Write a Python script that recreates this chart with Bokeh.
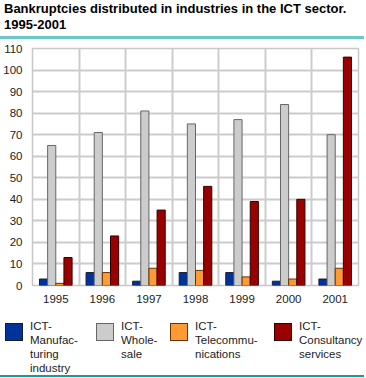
from bokeh.plotting import figure
from bokeh.layouts import column
from bokeh.models import Range1d, FixedTicker, ColumnDataSource, Div
from bokeh.embed import file_html
from bokeh.resources import INLINE

# ---- data ----
years = ["1995", "1996", "1997", "1998", "1999", "2000", "2001"]
manufacturing = [3, 6, 2, 6, 6, 2, 3]
wholesale = [65, 71, 81, 75, 77, 84, 70]
telecom = [1, 6, 8, 7, 4, 3, 8]
consultancy = [13, 23, 35, 46, 39, 40, 106]
series_names = [["ICT-", "Manufac-", "turing", "industry"],
                ["ICT-", "Whole-", "sale"],
                ["ICT-", "Telecommu-", "nications"],
                ["ICT-", "Consultancy", "services"]]
colors = ["#003399", "#cccccc", "#ff9933", "#990000"]
outlines = ["#1a1a33", "#666666", "#663300", "#330000"]
title_lines = ["Bankruptcies distributed in industries in the ICT sector.", "1995-2001"]

FONT = "Liberation Sans"
DW = 364            # width of the header / legend blocks
PW = 360            # chart figure width
BL, BR = 28, 2

# ---- header (HTML) ----
hdr_html = (
    f'<div style="position:relative;width:{DW}px;height:40px;overflow:hidden;'
    f'font-family:\'{FONT}\';font-weight:bold;font-size:13px;line-height:16px;color:#000">'
    f'<div style="position:absolute;left:4px;top:1px;white-space:nowrap">'
    + "<br>".join(title_lines) +
    '</div>'
    f'<div style="position:absolute;left:0;top:36px;width:{DW}px;height:2.5px;'
    'background:#6cc8c8"></div></div>'
)
hdr = Div(text=hdr_html, width=DW, height=40, margin=0)

# ---- main chart ----
n = len(years)
p = figure(width=PW, height=265, output_backend="svg", toolbar_location=None,
           x_range=Range1d(0, n), y_range=Range1d(0, 110),
           min_border_left=BL, min_border_right=BR, min_border_top=8,
           min_border_bottom=18, outline_line_color="#c8c8c8",
           outline_line_width=1.5)
centers = [i + 0.5 for i in range(n)]
w = 0.175
all_series = [manufacturing, wholesale, telecom, consultancy]
for k, vals in enumerate(all_series):
    off = (k - 1.5) * w
    src = ColumnDataSource(dict(x=[c + off for c in centers], top=vals))
    p.vbar(x="x", top="top", width=w, bottom=0, source=src,
           fill_color=colors[k], line_color=outlines[k], line_width=1)

p.xaxis.ticker = FixedTicker(ticks=centers)
p.xaxis.major_label_overrides = {c: y for c, y in zip(centers, years)}
p.yaxis.ticker = FixedTicker(ticks=list(range(0, 111, 10)))
p.xgrid.ticker = FixedTicker(ticks=list(range(1, n)))
for ax in (p.xaxis, p.yaxis):
    ax.axis_line_color = None
    ax.major_tick_line_color = None
    ax.minor_tick_line_color = None
    ax.major_label_text_font = FONT
    ax.major_label_text_font_size = "11.5px"
    ax.major_label_text_color = "#222222"
    ax.major_label_standoff = 4
p.xaxis.major_label_standoff = 3
p.grid.grid_line_color = "#cccccc"
p.grid.grid_line_width = 2

# ---- legend (HTML) ----
box_x = [5, 96, 170, 274]
parts = [f'<div style="position:relative;width:{DW}px;height:72px;overflow:hidden;'
         f'font-family:\'{FONT}\';font-size:11.5px;line-height:14px;color:#222">']
for k, lines in enumerate(series_names):
    bx = box_x[k]
    parts.append(
        f'<div style="position:absolute;left:{bx}px;top:18px;width:18px;height:18px;'
        f'box-sizing:border-box;background:{colors[k]};border:1px solid {outlines[k]}"></div>')
    parts.append(
        f'<div style="position:absolute;left:{bx + 25}px;top:14px;white-space:nowrap">'
        + "<br>".join(lines) + '</div>')
parts.append(f'<div style="position:absolute;left:0;top:70px;width:{DW}px;height:1.5px;'
             'background:#1a9a9a"></div></div>')
leg = Div(text="".join(parts), width=DW, height=72, margin=0)

layout = column(hdr, p, leg, spacing=0)
open("out.html", "w").write(file_html(layout, INLINE))
